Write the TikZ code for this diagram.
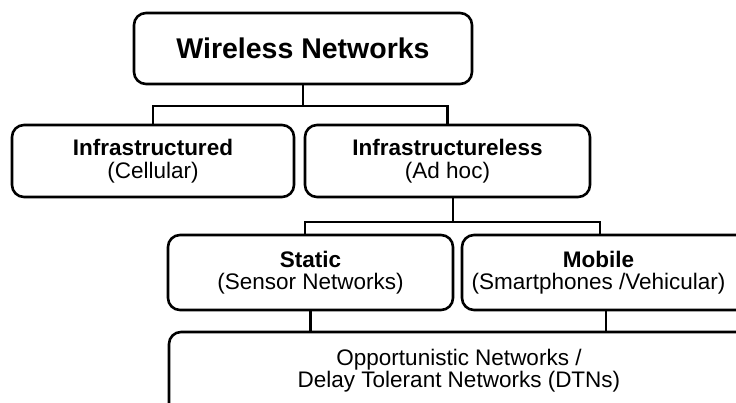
\documentclass[tikz,border=0pt]{standalone}
\usepackage{fontspec}
\setmainfont{Liberation Sans}
\begin{document}
\begin{tikzpicture}[x=1pt,y=-1pt,
  box/.style={draw, line width=2.6pt, rounded corners=12pt, align=center, inner sep=0pt},
  big/.style={font=\fontsize{28.5}{34}\selectfont\bfseries},
  small/.style={font=\fontsize{22.5}{22.5}\selectfont},
  lbl/.style={align=center, inner sep=0pt, font=\fontsize{22.5}{22.5}\selectfont},
  conn/.style={line width=2.4pt}]
\useasboundingbox (0,0) rectangle (736,403);
\clip (0,0) rectangle (736,403);
% boxes
\node[box,big,minimum width=338pt,minimum height=71pt] (top) at (303,48.5) {Wireless Networks};
\node[box,small,minimum width=282pt,minimum height=72pt] (infra) at (153,161) {\textbf{Infrastructured}\\(Cellular)};
\node[box,small,minimum width=285pt,minimum height=72pt] (adhoc) at (447.5,161) {\textbf{Infrastructureless}\\(Ad hoc)};
\node[box,small,minimum width=285pt,minimum height=75pt] (static) at (310.5,272.5) {\textbf{Static}\\(Sensor Networks)};
\node[box,minimum width=288pt,minimum height=75pt] (mobile) at (606,272.5) {};
\node[lbl] (mobiletxt) at (598.5,272.5) {\textbf{Mobile}\\(Smartphones /Vehicular)};
\node[box,minimum width=580pt,minimum height=88pt] (dtn) at (459,376) {};
\node[lbl] (dtntxt) at (459,370.5) {Opportunistic Networks /\\Delay Tolerant Networks (DTNs)};
% connectors
\coordinate (b1) at (303,106);
\coordinate (b2) at (453,222);
\coordinate (b2l) at (305,222);
\coordinate (b2r) at (600,222);
\draw[conn] (top.south) -- (b1);
\draw[conn] (infra.north) |- (b1) -| (adhoc.north);
\draw[conn] (adhoc.south -| b2) -- (b2);
\draw[conn] (static.north -| b2l) -- (b2l) -- (b2r) -- (mobile.north -| b2r);
\draw[conn] (static.south) -- (static.south |- dtn.north);
\draw[conn] (mobile.south) -- (mobile.south |- dtn.north);
\end{tikzpicture}
\end{document}
